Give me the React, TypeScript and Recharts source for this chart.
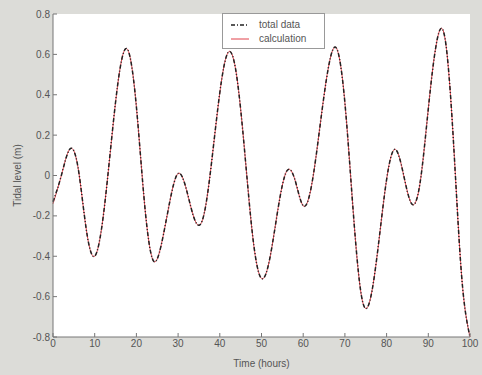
import { CartesianGrid, Legend, Line, LineChart, XAxis, YAxis } from 'recharts'

const hours = [
  0, 2, 4, 6, 8, 10, 12, 14, 16, 18, 20, 22, 24, 26, 28, 30, 32, 34, 36, 38,
  40, 42, 44, 46, 48, 50, 52, 54, 56, 58, 60, 62, 64, 66, 68, 70, 72, 74, 76,
  78, 80, 82, 84, 86, 88, 90, 92, 94, 96, 98, 100,
]
const totalData = [
  -0.13, 0.0, 0.13, 0.04, -0.27, -0.4, -0.21, 0.17, 0.52, 0.62, 0.34, -0.15,
  -0.42, -0.34, -0.13, 0.01, -0.07, -0.22, -0.21, 0.06, 0.41, 0.61, 0.5, 0.11,
  -0.32, -0.51, -0.41, -0.16, 0.02, -0.02, -0.15, -0.05, 0.24, 0.53, 0.63,
  0.36, -0.18, -0.6, -0.62, -0.35, -0.02, 0.13, 0.01, -0.14, -0.04, 0.33, 0.66,
  0.68, 0.18, -0.5, -0.8,
]
const calculation = [
  -0.14, 0.0, 0.13, 0.04, -0.27, -0.4, -0.21, 0.17, 0.52, 0.62, 0.34, -0.15,
  -0.42, -0.34, -0.13, 0.01, -0.07, -0.22, -0.21, 0.06, 0.41, 0.61, 0.5, 0.11,
  -0.32, -0.51, -0.41, -0.16, 0.02, -0.02, -0.15, -0.05, 0.24, 0.53, 0.63,
  0.36, -0.18, -0.6, -0.62, -0.35, -0.02, 0.13, 0.01, -0.14, -0.04, 0.33, 0.66,
  0.68, 0.18, -0.5, -0.8,
]
const xTicks = [0, 10, 20, 30, 40, 50, 60, 70, 80, 90, 100]
const yTicks = [-0.8, -0.6, -0.4, -0.2, 0, 0.2, 0.4, 0.6, 0.8]

const data = hours.map((t, i) => ({
  t,
  total: totalData[i],
  calc: calculation[i],
}))

const tickStyle = { fill: '#555', fontSize: 10, fontFamily: 'Liberation Sans, Arial, sans-serif' }
const axisColor = '#777'

function LegendBox() {
  return (
    <div
      style={{
        width: 103,
        height: 36,
        background: '#fff',
        border: '1px solid #999',
        fontFamily: 'Liberation Sans, Arial, sans-serif',
        fontSize: 10,
        color: '#555',
        boxSizing: 'border-box',
      }}
    >
      <svg width={101} height={34}>
        <line x1={8} x2={26} y1={11} y2={11} stroke="#222" strokeWidth={1.5} strokeDasharray="4 2 1 2" />
        <text x={36} y={14} fill="#555" fontSize={10}>total data</text>
        <line x1={8} x2={26} y1={25} y2={25} stroke="#e0404a" strokeWidth={1} />
        <text x={36} y={28} fill="#555" fontSize={10}>calculation</text>
      </svg>
    </div>
  )
}

export default function App() {
  return (
    <div style={{ position: 'fixed', left: 0, top: 0, width: 482, height: 375, background: '#dcdcd8' }}>
      <LineChart
        width={482}
        height={375}
        data={data}
        margin={{ top: 14, right: 12, bottom: 0, left: 17 }}
      >
        <CartesianGrid fill="#fff" horizontal={false} vertical={false} />
        <XAxis
          dataKey="t"
          type="number"
          domain={[0, 100]}
          ticks={xTicks}
          height={38}
          tick={tickStyle}
          tickSize={-4}
          tickMargin={7}
          stroke={axisColor}
          label={{ value: 'Time (hours)', position: 'insideBottom', offset: 8, style: { ...tickStyle, fontSize: 10 } }}
        />
        <XAxis
          xAxisId="top"
          dataKey="t"
          type="number"
          orientation="top"
          domain={[0, 100]}
          ticks={xTicks}
          height={0}
          tickFormatter={() => ''}
          tickSize={-4}
          stroke={axisColor}
        />
        <YAxis
          type="number"
          domain={[-0.8, 0.8]}
          ticks={yTicks}
          width={36}
          tick={tickStyle}
          tickSize={-4}
          tickMargin={7}
          stroke={axisColor}
          tickFormatter={(v: number) => (v === 0 ? '0' : v.toFixed(1))}
          label={{ value: 'Tidal level (m)', angle: -90, position: 'insideLeft', offset: 0, style: { ...tickStyle, textAnchor: 'middle' } }}
        />
        <YAxis
          yAxisId="right"
          orientation="right"
          type="number"
          domain={[-0.8, 0.8]}
          ticks={yTicks}
          width={0}
          tickFormatter={() => ''}
          tickSize={-4}
          stroke={axisColor}
        />
        <Legend
          layout="horizontal"
          verticalAlign="middle"
          align="center"
          content={() => <LegendBox />}
          wrapperStyle={{ top: 13, left: 222, width: 103 }}
        />
        <Line
          dataKey="calc"
          type="natural"
          stroke="#e0404a"
          strokeWidth={1}
          dot={false}
          isAnimationActive={false}
        />
        <Line
          dataKey="total"
          type="natural"
          stroke="#222"
          strokeWidth={1.5}
          strokeDasharray="4 2 1 2"
          dot={false}
          isAnimationActive={false}
        />
      </LineChart>
    </div>
  )
}
